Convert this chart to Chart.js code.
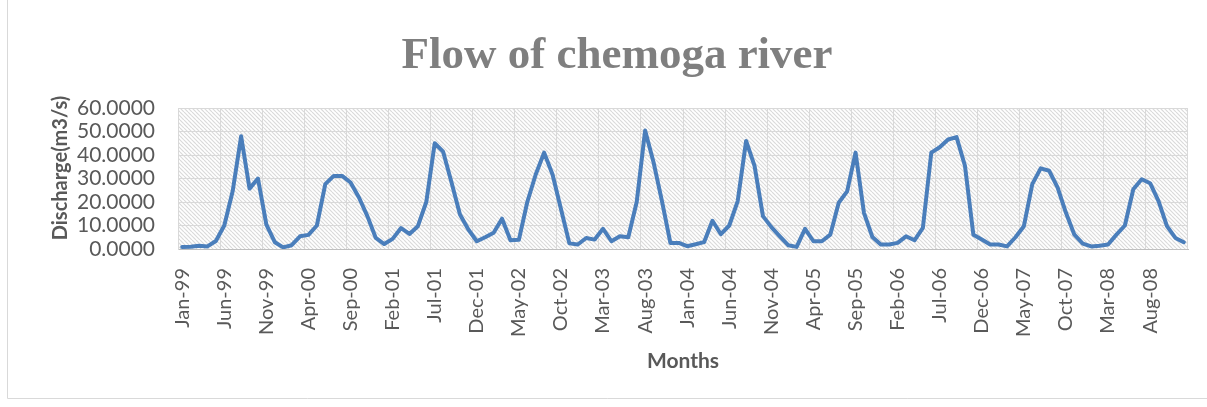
<!DOCTYPE html>
<html>
<head>
  <meta charset="UTF-8">
  <title>Flow of chemoga river</title>
  <script src="https://cdn.jsdelivr.net/npm/chart.js"></script>
  <style>
    body { margin: 0; background: #fff; }
  </style>
</head>
<body>
  <canvas id="flowChart" width="1207" height="407"></canvas>

  <script>
    // categories: Jan-99 .. Dec-08
    const monthNames = ['Jan', 'Feb', 'Mar', 'Apr', 'May', 'Jun', 'Jul', 'Aug', 'Sep', 'Oct', 'Nov', 'Dec'];
    const years = ['99', '00', '01', '02', '03', '04', '05', '06', '07', '08'];
    const labels = [];
    years.forEach(y => monthNames.forEach(m => labels.push(m + '-' + y)));

    // discharge (m3/s), one value per month
    const discharge = [
      0.9, 1.0, 1.4, 1.1, 3.4, 10.0, 24.7, 48.0, 25.7, 30.0, 10.4, 2.9,
      0.7, 1.6, 5.4, 6.0, 10.0, 27.6, 31.1, 31.1, 28.3, 21.9, 14.0, 4.7,
      2.1, 4.3, 8.9, 6.4, 9.7, 20.0, 45.0, 41.4, 28.3, 14.7, 8.3, 3.3,
      5.0, 6.9, 12.9, 3.7, 3.9, 20.0, 31.7, 41.0, 31.7, 17.0, 2.4, 1.9,
      4.7, 4.0, 8.6, 3.3, 5.4, 5.0, 20.0, 50.4, 36.9, 20.4, 2.6, 2.6,
      1.2, 2.0, 2.9, 12.0, 6.3, 10.0, 20.4, 46.0, 35.4, 14.0, 9.3, 5.4,
      1.6, 0.9, 8.6, 3.3, 3.3, 6.1, 19.7, 24.5, 41.0, 15.4, 5.1, 1.9,
      1.9, 2.6, 5.4, 3.7, 9.0, 41.0, 43.3, 46.6, 47.6, 35.4, 6.1, 4.0,
      1.9, 1.9, 1.1, 5.0, 9.7, 27.6, 34.3, 33.3, 26.2, 15.4, 6.1, 2.3,
      1.1, 1.4, 1.9, 6.1, 10.0, 25.4, 29.7, 28.0, 20.4, 9.7, 4.7, 2.9
    ];

    const yMin = 0, yMax = 60, yStep = 10;
    const labelEvery = 5;

    // hatched plot background + outer frame
    const plotBg = {
      id: 'plotBg',
      beforeDraw(chart) {
        const { ctx, chartArea: a, width } = chart;
        const tile = document.createElement('canvas');
        tile.width = tile.height = 8;
        const t = tile.getContext('2d');
        t.fillStyle = '#ffffff';
        t.fillRect(0, 0, 8, 8);
        t.strokeStyle = '#dadada';
        t.lineWidth = 1.2;
        for (let k = -8; k <= 8; k += 4) {
          t.beginPath();
          t.moveTo(k, 0);
          t.lineTo(k + 8, 8);
          t.stroke();
        }
        ctx.save();
        ctx.fillStyle = ctx.createPattern(tile, 'repeat');
        ctx.fillRect(a.left, a.top, a.right - a.left, a.bottom - a.top);
        ctx.strokeStyle = '#d9d9d9';
        ctx.lineWidth = 1;
        ctx.beginPath();
        ctx.moveTo(7.5, 0);
        ctx.lineTo(7.5, 398.5);
        ctx.lineTo(width, 398.5);
        ctx.stroke();
        ctx.restore();
      }
    };

    // chart title and y axis title
    const titles = {
      id: 'titles',
      afterDraw(chart) {
        const { ctx } = chart;
        ctx.save();
        ctx.fillStyle = '#7f7f7f';
        ctx.font = 'bold 45px "Liberation Serif", serif';
        ctx.textAlign = 'center';
        ctx.textBaseline = 'alphabetic';
        ctx.fillText('Flow of chemoga river', 617, 68);

        ctx.fillStyle = '#595959';
        ctx.font = 'bold 20px Lato, sans-serif';
        ctx.translate(61, 168);
        ctx.rotate(-Math.PI / 2);
        ctx.textBaseline = 'middle';
        ctx.fillText('Discharge(m3/s)', 0, 0);
        ctx.restore();
      }
    };

    const ctx = document.getElementById('flowChart').getContext('2d');
    new Chart(ctx, {
      type: 'line',
      data: {
        labels: labels,
        datasets: [{
          label: 'Discharge',
          data: discharge,
          borderColor: '#4a7ebb',
          borderWidth: 4,
          borderCapStyle: 'round',
          borderJoinStyle: 'round',
          pointRadius: 0,
          tension: 0,
          fill: false
        }]
      },
      options: {
        responsive: false,
        animation: false,
        devicePixelRatio: 1,
        layout: { padding: { top: 108, right: 19, left: 0, bottom: 0 } },
        plugins: {
          legend: { display: false },
          title: { display: false },
          tooltip: { enabled: false }
        },
        scales: {
          x: {
            type: 'category',
            offset: true,
            grid: {
              offset: true,
              drawTicks: false,
              lineWidth: 1,
              color: c => ((c.index ?? 0) % labelEvery === 0 ? '#d9d9d9' : 'rgba(0,0,0,0)')
            },
            border: { color: '#bfbfbf', width: 1 },
            ticks: {
              autoSkip: false,
              maxRotation: 90,
              minRotation: 90,
              padding: 19,
              color: '#595959',
              font: { family: 'Lato', size: 20 },
              callback: (v, i) => (i % labelEvery === 0 ? labels[i] : '')
            },
            title: {
              display: true,
              text: 'Months',
              color: '#595959',
              font: { family: 'Lato', size: 21, weight: 'bold' },
              padding: { top: 0, bottom: 33 }
            },
            afterFit: s => {
              s.height = 158;
              s.paddingLeft = 0;
              s.paddingRight = 0;
            }
          },
          y: {
            min: yMin,
            max: yMax,
            grid: { color: '#d9d9d9', lineWidth: 1, drawTicks: false },
            border: { color: '#d9d9d9', width: 1 },
            ticks: {
              autoSkip: false,
              stepSize: yStep,
              padding: 23,
              color: '#595959',
              font: { family: 'Lato', size: 21 },
              callback: v => v.toFixed(4)
            },
            afterFit: s => {
              s.width = 178;
              s.paddingTop = 0;
              s.paddingBottom = 0;
            }
          }
        }
      },
      plugins: [plotBg, titles]
    });
  </script>
</body>
</html>
